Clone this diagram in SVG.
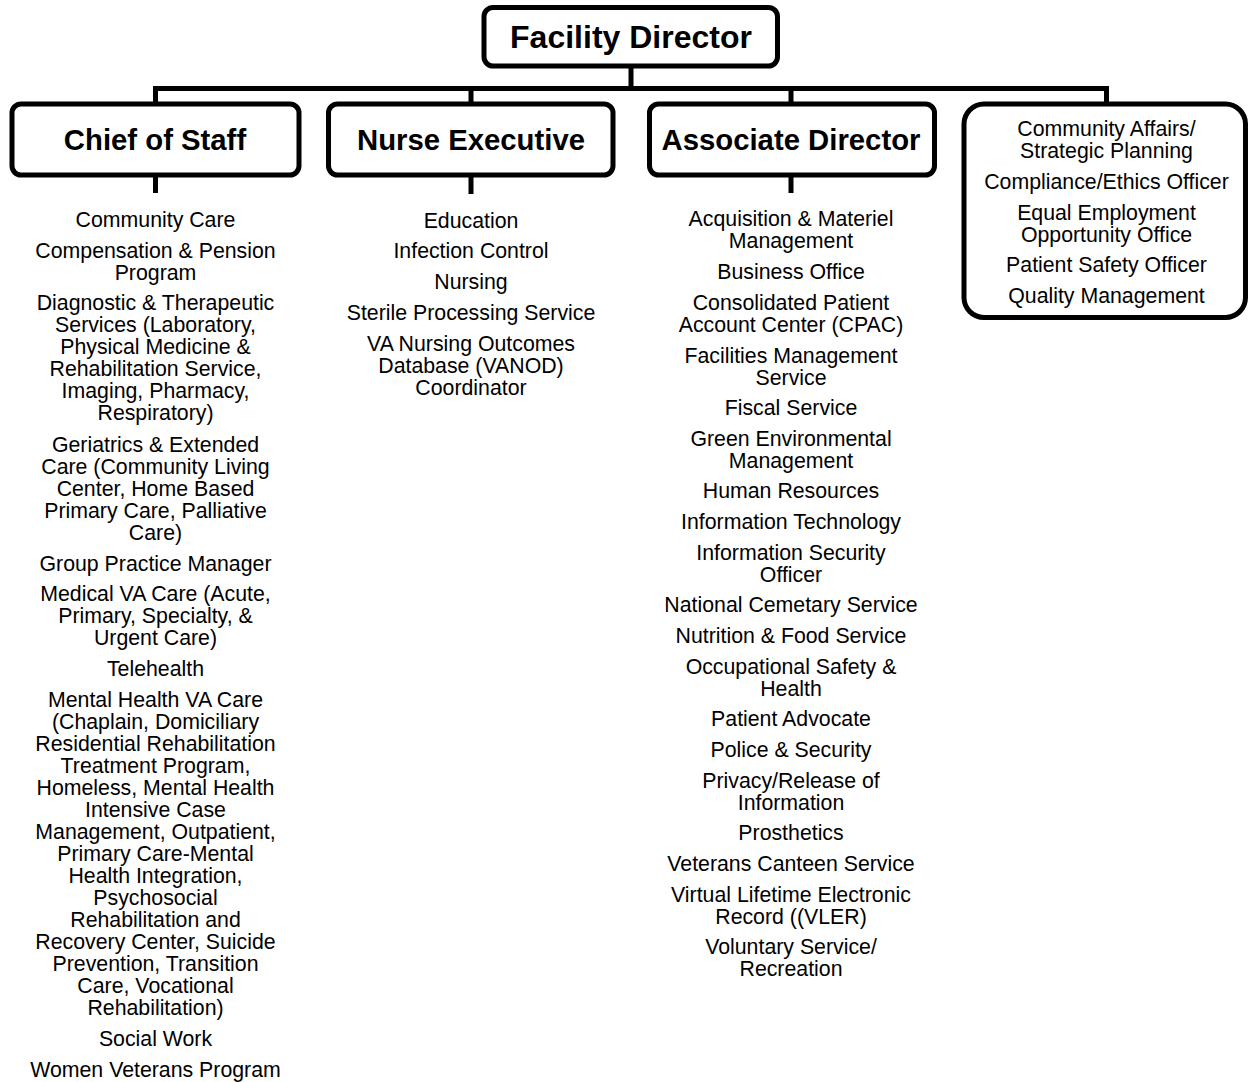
<svg xmlns="http://www.w3.org/2000/svg" width="1250" height="1082" viewBox="0 0 1250 1082">
<style>
.box{fill:#fff;stroke:#000;stroke-width:5}
.con{stroke:#000;stroke-width:5;fill:none}
.head{font-family:"Liberation Sans",Arial,sans-serif;font-weight:bold;font-size:29.3px;text-anchor:middle;fill:#000}
.item{font-family:"Liberation Sans",Arial,sans-serif;font-size:21.3px;text-anchor:middle;fill:#000}
</style>
<rect width="1250" height="1082" fill="#fff"/>
<g id="connectors">
<path class="con" d="M631 66V88.5M155.5 88.5H1106.5M155.5 86V104M471 88.5V104M791 88.5V104M1106.5 86V104M155.5 175V193M471 175V194M791 175V193"/>
</g>
<g id="facility-director">
<rect class="box" x="484" y="7.5" width="293.5" height="58.5" rx="9"/>
<text class="head" x="631" y="48" style="font-size:32px">Facility Director</text>
</g>
<g id="chief-of-staff">
<rect class="box" x="12" y="104" width="287" height="71" rx="9"/>
<text class="head" x="155" y="150">Chief of Staff</text>
</g>
<g id="nurse-executive">
<rect class="box" x="328.5" y="104" width="284.5" height="71" rx="9"/>
<text class="head" x="471" y="150">Nurse Executive</text>
</g>
<g id="associate-director">
<rect class="box" x="649.5" y="104" width="285" height="71" rx="9"/>
<text class="head" x="791" y="150">Associate Director</text>
</g>
<g id="staff-offices">
<rect class="box" x="964" y="104" width="281.5" height="213.5" rx="20"/>
<text class="item" x="1106.5" y="136">Community Affairs/<tspan x="1106.5" dy="22">Strategic Planning</tspan></text>
<text class="item" x="1106.5" y="188.5">Compliance/Ethics Officer</text>
<text class="item" x="1106.5" y="219.5">Equal Employment<tspan x="1106.5" dy="22">Opportunity Office</tspan></text>
<text class="item" x="1106.5" y="271.5">Patient Safety Officer</text>
<text class="item" x="1106.5" y="302.5">Quality Management</text>
</g>
<g id="chief-of-staff-items">
<text class="item" x="155.5" y="226.5">Community Care</text>
<text class="item" x="155.5" y="257.5">Compensation &amp; Pension<tspan x="155.5" dy="22">Program</tspan></text>
<text class="item" x="155.5" y="309.5">Diagnostic &amp; Therapeutic<tspan x="155.5" dy="22">Services (Laboratory,</tspan><tspan x="155.5" dy="22">Physical Medicine &amp;</tspan><tspan x="155.5" dy="22">Rehabilitation Service,</tspan><tspan x="155.5" dy="22">Imaging, Pharmacy,</tspan><tspan x="155.5" dy="22">Respiratory)</tspan></text>
<text class="item" x="155.5" y="451.5">Geriatrics &amp; Extended<tspan x="155.5" dy="22">Care (Community Living</tspan><tspan x="155.5" dy="22">Center, Home Based</tspan><tspan x="155.5" dy="22">Primary Care, Palliative</tspan><tspan x="155.5" dy="22">Care)</tspan></text>
<text class="item" x="155.5" y="570.5">Group Practice Manager</text>
<text class="item" x="155.5" y="600.5">Medical VA Care (Acute,<tspan x="155.5" dy="22">Primary, Specialty, &amp;</tspan><tspan x="155.5" dy="22">Urgent Care)</tspan></text>
<text class="item" x="155.5" y="675.5">Telehealth</text>
<text class="item" x="155.5" y="706.5">Mental Health VA Care<tspan x="155.5" dy="22">(Chaplain, Domiciliary</tspan><tspan x="155.5" dy="22">Residential Rehabilitation</tspan><tspan x="155.5" dy="22">Treatment Program,</tspan><tspan x="155.5" dy="22">Homeless, Mental Health</tspan><tspan x="155.5" dy="22">Intensive Case</tspan><tspan x="155.5" dy="22">Management, Outpatient,</tspan><tspan x="155.5" dy="22">Primary Care-Mental</tspan><tspan x="155.5" dy="22">Health Integration,</tspan><tspan x="155.5" dy="22">Psychosocial</tspan><tspan x="155.5" dy="22">Rehabilitation and</tspan><tspan x="155.5" dy="22">Recovery Center, Suicide</tspan><tspan x="155.5" dy="22">Prevention, Transition</tspan><tspan x="155.5" dy="22">Care, Vocational</tspan><tspan x="155.5" dy="22">Rehabilitation)</tspan></text>
<text class="item" x="155.5" y="1045.5">Social Work</text>
<text class="item" x="155.5" y="1076.5">Women Veterans Program</text>
</g>
<g id="nurse-executive-items">
<text class="item" x="471" y="227.5">Education</text>
<text class="item" x="471" y="257.5">Infection Control</text>
<text class="item" x="471" y="289">Nursing</text>
<text class="item" x="471" y="319.5">Sterile Processing Service</text>
<text class="item" x="471" y="350.5">VA Nursing Outcomes<tspan x="471" dy="22">Database (VANOD)</tspan><tspan x="471" dy="22">Coordinator</tspan></text>
</g>
<g id="associate-director-items">
<text class="item" x="791" y="225.5">Acquisition &amp; Materiel<tspan x="791" dy="22">Management</tspan></text>
<text class="item" x="791" y="278.5">Business Office</text>
<text class="item" x="791" y="309.5">Consolidated Patient<tspan x="791" dy="22">Account Center (CPAC)</tspan></text>
<text class="item" x="791" y="362.5">Facilities Management<tspan x="791" dy="22">Service</tspan></text>
<text class="item" x="791" y="414.5">Fiscal Service</text>
<text class="item" x="791" y="445.5">Green Environmental<tspan x="791" dy="22">Management</tspan></text>
<text class="item" x="791" y="497.5">Human Resources</text>
<text class="item" x="791" y="528.5">Information Technology</text>
<text class="item" x="791" y="559.5">Information Security<tspan x="791" dy="22">Officer</tspan></text>
<text class="item" x="791" y="611.5">National Cemetary Service</text>
<text class="item" x="791" y="642.5">Nutrition &amp; Food Service</text>
<text class="item" x="791" y="673.5">Occupational Safety &amp;<tspan x="791" dy="22">Health</tspan></text>
<text class="item" x="791" y="725.5">Patient Advocate</text>
<text class="item" x="791" y="756.5">Police &amp; Security</text>
<text class="item" x="791" y="787.5">Privacy/Release of<tspan x="791" dy="22">Information</tspan></text>
<text class="item" x="791" y="839.5">Prosthetics</text>
<text class="item" x="791" y="870.5">Veterans Canteen Service</text>
<text class="item" x="791" y="901.5">Virtual Lifetime Electronic<tspan x="791" dy="22">Record ((VLER)</tspan></text>
<text class="item" x="791" y="953.5">Voluntary Service/<tspan x="791" dy="22">Recreation</tspan></text>
</g>
</svg>
